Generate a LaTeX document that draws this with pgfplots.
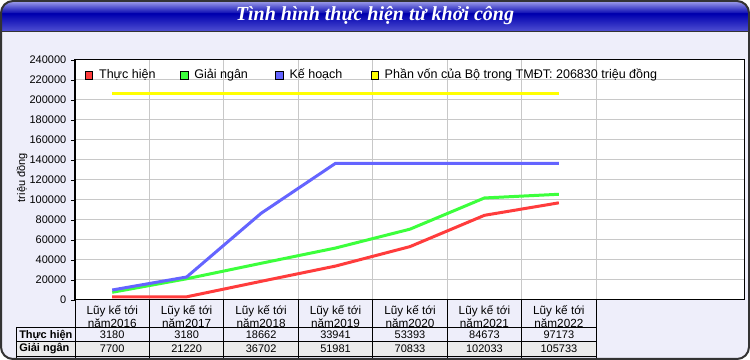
\documentclass[border=0pt]{standalone}
\usepackage{fontspec}
\setmainfont{Liberation Sans}
\newfontfamily\titlefont{Liberation Serif}
\usepackage{pgfplots}
\pgfplotsset{compat=1.18}
\definecolor{bg}{RGB}{238,238,250}
\definecolor{cRed}{RGB}{255,60,60}
\definecolor{cGreen}{RGB}{60,255,60}
\definecolor{cBlue}{RGB}{100,100,255}
\definecolor{cYellow}{RGB}{255,255,0}
\definecolor{gridc}{RGB}{200,200,200}
\definecolor{rowgray}{RGB}{235,235,235}
\definecolor{tTop}{RGB}{160,160,235}
\definecolor{tMid}{RGB}{0,0,175}
\definecolor{tBot}{RGB}{80,80,210}
\newcommand{\sm}{\fontsize{8.25}{9.75}\selectfont}
\newcommand{\legfont}{\fontsize{9.4}{11}\selectfont}
\begin{document}
\begin{tikzpicture}[x=0.75pt,y=0.75pt]
\useasboundingbox (0,0) rectangle (750,360);
\fill[bg, rounded corners=9] (1,1) rectangle (749,359);
\begin{scope}
\clip[rounded corners=9] (1,1) rectangle (749,359);
\shade[top color=tTop, bottom color=tMid] (1,346) rectangle (749,359);
\shade[top color=tMid, bottom color=tBot] (1,328.5) rectangle (749,346.1);
\end{scope}
\draw[black!80, line width=0.75pt] (1,328.5) -- (749,328.5);
\node[white, font=\titlefont\bfseries\itshape\fontsize{15}{18}\selectfont] at (375,344) {Tình hình thực hiện từ khởi công};
% table backgrounds
\fill[rowgray] (16.5,18) rectangle (596.3,3.5);
\begin{axis}[
  at={(56.25pt,45pt)}, anchor=south west,
  scale only axis, width=502.5pt, height=180pt,
  axis background/.style={fill=white},
  xmin=-0.5, xmax=8.5, ymin=0, ymax=240000,
  ytick={0,20000,...,240000},
  xtick={0,...,6},
  xticklabels={{Lũy kế tới\\năm2016},{Lũy kế tới\\năm2017},{Lũy kế tới\\năm2018},{Lũy kế tới\\năm2019},{Lũy kế tới\\năm2020},{Lũy kế tới\\năm2021},{Lũy kế tới\\năm2022}},
  x tick label style={align=center, font=\fontsize{8.8}{9.75}\selectfont, inner sep=0pt, yshift=-1pt},
  minor xtick={0.5,1.5,...,6.5},
  xminorgrids=true, ymajorgrids=true,
  grid style={gridc, line width=0.75pt},
  minor grid style={gridc, line width=0.75pt},
  tick align=outside, tick pos=left,
  x tick style={draw=none}, minor x tick style={draw=none},
  y tick style={black, line width=0.6pt},
  major tick length=3pt,
  scaled y ticks=false,
  y tick label style={font=\sm, /pgf/number format/fixed, /pgf/number format/1000 sep={}, /pgf/number format/assume math mode=true},
  axis line style={black, line width=0.75pt},
  ylabel={triệu đồng},
  ylabel style={font=\sm, at={(axis description cs:-0.079,0.51)}, anchor=center},
  legend columns=4,
  legend style={at={(axis description cs:0.0145,0.937)}, anchor=west, draw=none, fill=none, font=\legfont, inner sep=0pt,
    /tikz/every even column/.append style={column sep=0pt}},
  legend cell align=left,
  every axis plot/.append style={line width=2.25pt},
]
\addplot[cRed, legend image code/.code={\draw[draw=black,fill=cRed,line width=0.5pt] (0pt,-2.8pt) rectangle (5.6pt,2.8pt);}] coordinates {(0,3180) (1,3180) (2,18662) (3,33941) (4,53393) (5,84673) (6,97173)};
\addlegendentry{\makebox[61.3pt][l]{\hspace{2.5pt}Thực hiện}}
\addplot[cGreen, legend image code/.code={\draw[draw=black,fill=cGreen,line width=0.5pt] (0pt,-2.8pt) rectangle (5.6pt,2.8pt);}] coordinates {(0,7700) (1,21220) (2,36702) (3,51981) (4,70833) (5,102033) (6,105733)};
\addlegendentry{\makebox[61.3pt][l]{\hspace{2.5pt}Giải ngân}}
\addplot[cBlue, legend image code/.code={\draw[draw=black,fill=cBlue,line width=0.5pt] (0pt,-2.8pt) rectangle (5.6pt,2.8pt);}] coordinates {(0,10000) (1,23000) (2,86700) (3,136700) (4,136700) (5,136700) (6,136700)};
\addlegendentry{\makebox[61.3pt][l]{\hspace{2.5pt}Kế hoạch}}
\addplot[cYellow, legend image code/.code={\draw[draw=black,fill=cYellow,line width=0.5pt] (0pt,-2.8pt) rectangle (5.6pt,2.8pt);}] coordinates {(0,206830) (1,206830) (2,206830) (3,206830) (4,206830) (5,206830) (6,206830)};
\addlegendentry{\hspace{2.5pt}Phần vốn của Bộ trong TMĐT: 206830 triệu đồng}
\end{axis}
% table grid
\foreach \k in {0,...,7} {
  \draw[black, line width=0.75pt] ({75+\k*74.444},60) -- ({75+\k*74.444},1.5);
}
\draw[black, line width=0.75pt] (16.5,32.5) -- (16.5,1.5);
\foreach \yy in {32.5,18,3.5} {
  \draw[black, line width=0.75pt] (16.5,\yy) -- (596.3,\yy);
}
\node[font=\sm\bfseries, anchor=west, inner sep=0pt] at (19,25) {Thực hiện};
\node[font=\sm\bfseries, anchor=west, inner sep=0pt] at (19,11) {Giải ngân};
\foreach \v [count=\i from 0] in {3180,3180,18662,33941,53393,84673,97173} {
  \node[font=\sm, inner sep=0pt] at ({75+(\i+0.5)*74.444},25) {\v};
}
\foreach \v [count=\i from 0] in {7700,21220,36702,51981,70833,102033,105733} {
  \node[font=\sm, inner sep=0pt] at ({75+(\i+0.5)*74.444},11) {\v};
}
\draw[black!80, line width=1.5pt, rounded corners=9] (1,1) rectangle (749,359);
\end{tikzpicture}
\end{document}
